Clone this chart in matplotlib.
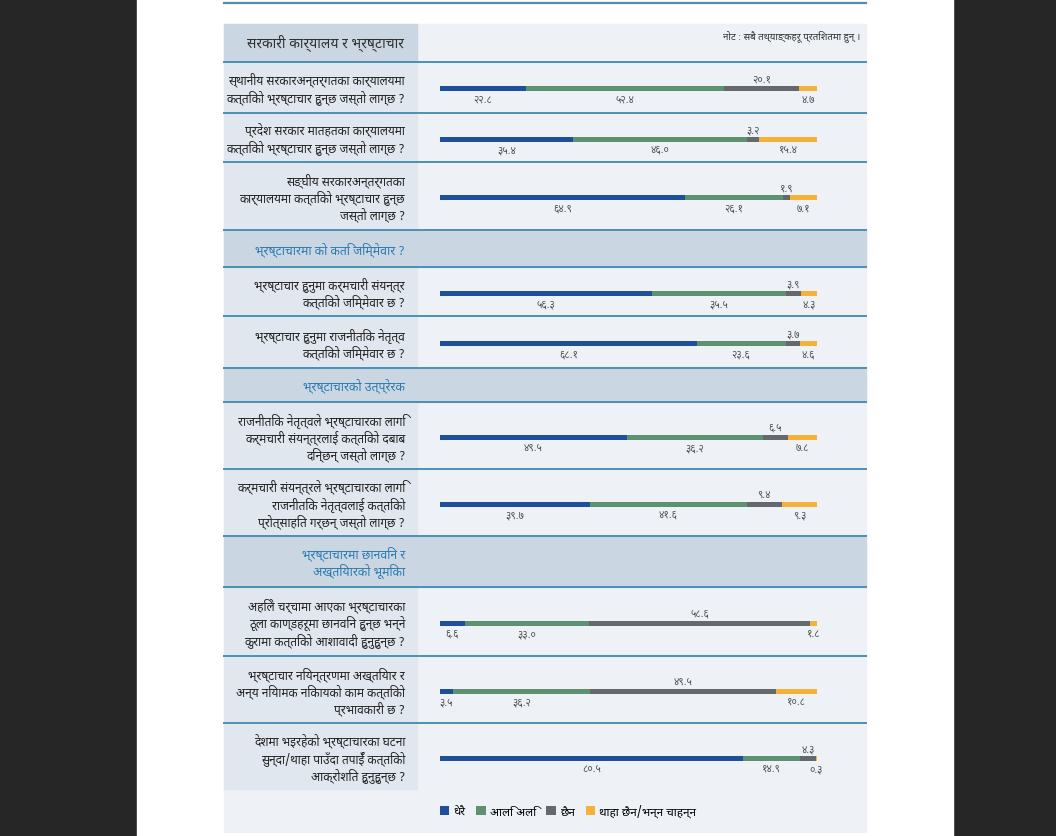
import matplotlib
matplotlib.use('Agg')
import matplotlib.pyplot as plt
from matplotlib import font_manager
from matplotlib.ft2font import FT2Font
from matplotlib.patches import Rectangle

# data (percent)
questions = [
    "स्थानीय सरकारअन्तर्गतका कार्यालयमा\nकत्तिको भ्रष्टाचार हुन्छ जस्तो लाग्छ ?",
    "प्रदेश सरकार मातहतका कार्यालयमा\nकत्तिको भ्रष्टाचार हुन्छ जस्तो लाग्छ ?",
    "सङ्घीय सरकारअन्तर्गतका\nकार्यालयमा कत्तिको भ्रष्टाचार हुन्छ\nजस्तो लाग्छ ?",
    "भ्रष्टाचार हुनुमा कर्मचारी संयन्त्र\nकत्तिको जिम्मेवार छ ?",
    "भ्रष्टाचार हुनुमा राजनीतिक नेतृत्व\nकत्तिको जिम्मेवार छ ?",
    "राजनीतिक नेतृत्वले भ्रष्टाचारका लागि\nकर्मचारी संयन्त्रलाई कत्तिको दबाब\nदिन्छन् जस्तो लाग्छ ?",
    "कर्मचारी संयन्त्रले भ्रष्टाचारका लागि\nराजनीतिक नेतृत्वलाई कत्तिको\nप्रोत्साहित गर्छन् जस्तो लाग्छ ?",
    "अहिले चर्चामा आएका भ्रष्टाचारका\nठूला काण्डहरूमा छानविन हुन्छ भन्ने\nकुरामा कत्तिको आशावादी हुनुहुन्छ ?",
    "भ्रष्टाचार नियन्त्रणमा अख्तियार र\nअन्य नियामक निकायको काम कत्तिको\nप्रभावकारी छ ?",
    "देशमा भइरहेको भ्रष्टाचारका घटना\nसुन्दा/थाहा पाउँदा तपाईँ कत्तिको\nआक्रोशित हुनुहुन्छ ?",
]
sections = [
    "सरकारी कार्यालय र भ्रष्टाचार",
    "भ्रष्टाचारमा को कति जिम्मेवार ?",
    "भ्रष्टाचारको उत्प्रेरक",
    "भ्रष्टाचारमा छानविन र\nअख्तियारको भूमिका",
]
series_names = ["धेरै", "आलि अलि", "छैन", "थाहा छैन/भन्न चाहन्न"]
dherai = [22.8, 35.4, 64.9, 56.3, 68.1, 49.5, 39.7, 6.6, 3.5, 80.5]
aali = [52.4, 46.0, 26.1, 35.5, 23.6, 36.2, 41.6, 33.0, 36.2, 14.9]
chhaina = [20.1, 3.2, 1.9, 3.9, 3.7, 6.5, 9.4, 58.6, 49.5, 4.3]
thaha = [4.7, 15.4, 7.1, 4.3, 4.6, 7.8, 9.3, 1.8, 10.8, 0.3]
note = "नोट : सबै तथ्याङ्कहरू प्रतिशतमा हुन् ।"

colors = ['#1d4f9a', '#5e9170', '#66696c', '#f6b238']


def devanagari_family():
    found = []
    for f in font_manager.fontManager.ttflist:
        try:
            if 0x0915 in FT2Font(f.fname).get_charmap():
                found.append(f.name)
        except Exception:
            pass
    for pref in ('Noto Sans Devanagari', 'Lohit Devanagari', 'Mukta', 'Kalimati', 'FreeSans'):
        if pref in found:
            return pref
    return found[0] if found else 'DejaVu Sans'


plt.rcParams['font.family'] = [devanagari_family(), 'DejaVu Sans']

deva_digits = str.maketrans('0123456789', '०१२३४५६७८९')


def nep(v):
    return f"{v:.1f}".translate(deva_digits)


# layout in pixels (top, bottom)
W, H = 1056, 837
X0, XL, X1 = 224, 417, 866
header = (25, 62)
q_rows = [(63, 113), (115, 162), (164, 230), (269, 316), (318, 368),
          (404, 469), (471, 536), (589, 656), (658, 723), (725, 790)]
sec_rows = [(232, 267), (370, 402), (538, 587)]
sep_lines = [62.5, 114, 163, 231, 268, 317, 369, 403, 470, 537, 588, 657, 724]

fig = plt.figure(figsize=(W / 100, H / 100), dpi=100)
fig.patch.set_facecolor('#262626')

bg = fig.add_axes([0, 0, 1, 1])
bg.set_xlim(0, W)
bg.set_ylim(H, 0)
bg.axis('off')
bg.add_patch(Rectangle((137, 0), 953 - 137, H, color='white', zorder=0))

line_c = '#4a90b5'
bg.plot([X0, X1], [4, 4], color=line_c, lw=1.6)

# panel backgrounds
bg.add_patch(Rectangle((X0, 25), X1 - X0, 833 - 25, color='#eef2f6', zorder=1))
bg.add_patch(Rectangle((X0, header[0]), XL - X0, header[1] - header[0], color='#cad6e2', zorder=1))
for t, b in q_rows:
    bg.add_patch(Rectangle((X0, t), XL - X0, b - t, color='#e1e7ee', zorder=1))
for t, b in sec_rows:
    bg.add_patch(Rectangle((X0, t - 1), X1 - X0, b - t + 2, color='#cad6e2', zorder=1))
for y in sep_lines:
    bg.plot([X0, X1], [y, y], color=line_c, lw=1.4, zorder=2)

# texts
bg.text(404, sum(header) / 2, sections[0], ha='right', va='center', fontsize=10, color='#2f2f2f', zorder=3)
bg.text(860, 36, note, ha='right', va='center', fontsize=7, color='#333333', style='italic', zorder=3)
for (t, b), txt in zip(sec_rows, sections[1:]):
    bg.text(405, (t + b) / 2, txt, ha='right', va='center', fontsize=8.8, color='#2a7ab0',
            linespacing=1.25, zorder=3)
for (t, b), txt in zip(q_rows, questions):
    bg.text(405, (t + b) / 2 + 1, txt, ha='right', va='center', fontsize=8.6, color='#222222',
            linespacing=1.2, zorder=3)

# bars
ax = fig.add_axes([440 / W, 0, (817 - 440) / W, 1])
ax.set_xlim(0, 100)
ax.set_ylim(H, 0)
ax.axis('off')
ax.patch.set_alpha(0)

ys = [(t + b) / 2 + 1.5 for t, b in q_rows]
lefts = [0.0] * len(ys)
handles = []
for k, (vals, c, name) in enumerate(zip([dherai, aali, chhaina, thaha], colors, series_names)):
    h = ax.barh(ys, vals, left=lefts, height=5, color=c, label=name)
    handles.append(h)
    for y, l, v in zip(ys, lefts, vals):
        dy = -9.5 if k == 2 else 10.5
        ax.text(l + v / 2, y + dy, nep(v), ha='center', va='center', fontsize=7.5, color='#555555')
    lefts = [l + v for l, v in zip(lefts, vals)]

fig.legend(handles, series_names, loc='center', bbox_to_anchor=(568 / W, 1 - 812 / H), ncol=4,
           frameon=False, fontsize=8.5, handlelength=0.8, handleheight=0.8, handletextpad=0.35,
           columnspacing=0.9)

fig.savefig('out.png', dpi=100, facecolor=fig.get_facecolor())
